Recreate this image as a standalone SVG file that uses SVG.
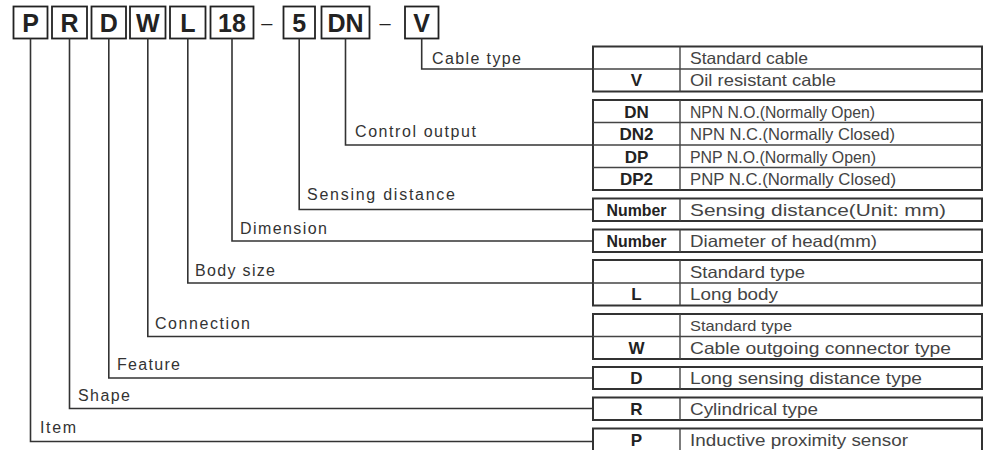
<svg xmlns="http://www.w3.org/2000/svg" width="985" height="450" viewBox="0 0 985 450">
<style>
.bx{fill:#fff;stroke:#222;stroke-width:1.8}
.hd{font-family:"Liberation Sans",Arial,sans-serif;font-weight:bold;font-size:25px;fill:#222;text-anchor:middle}
.ln{fill:none;stroke:#333;stroke-width:1.6}
.lb{font-family:"Liberation Sans",Arial,sans-serif;font-size:16px;fill:#333}
.tb{fill:#fff;stroke:#333;stroke-width:2}
.in{stroke:#444;stroke-width:1.4}
.cd{font-family:"Liberation Sans",Arial,sans-serif;font-weight:bold;font-size:17px;fill:#222;text-anchor:middle}
.ds{font-family:"Liberation Sans",Arial,sans-serif;font-size:16.5px;fill:#444}
</style>
<rect width="985" height="450" fill="#fff"/>
<g id="code">
<g id="h-P"><rect class="bx" x="13.5" y="6.5" width="34" height="32"/><text class="hd" x="30.5" y="32">P</text></g>
<g id="h-R"><rect class="bx" x="52" y="6.5" width="35" height="32"/><text class="hd" x="69.5" y="32">R</text></g>
<g id="h-D"><rect class="bx" x="91.5" y="6.5" width="34.5" height="32"/><text class="hd" x="108.8" y="32">D</text></g>
<g id="h-W"><rect class="bx" x="130" y="6.5" width="35.5" height="32"/><text class="hd" x="147.8" y="32">W</text></g>
<g id="h-L"><rect class="bx" x="170" y="6.5" width="35.5" height="32"/><text class="hd" x="187.8" y="32">L</text></g>
<g id="h-18"><rect class="bx" x="210.5" y="6.5" width="43" height="32"/><text class="hd" x="232" y="32">18</text></g>
<text class="hd" x="266.7" y="30" style="font-weight:normal;font-size:20px">–</text>
<g id="h-5"><rect class="bx" x="283.5" y="6.5" width="31.5" height="32"/><text class="hd" x="299.2" y="32">5</text></g>
<g id="h-DN"><rect class="bx" x="321.5" y="6.5" width="48" height="32"/><text class="hd" x="345.5" y="32">DN</text></g>
<text class="hd" x="385" y="30" style="font-weight:normal;font-size:20px">–</text>
<g id="h-V"><rect class="bx" x="405" y="6.5" width="33.5" height="32"/><text class="hd" x="421.7" y="32">V</text></g>
</g>
<g id="connectors">
<polyline class="ln" points="421.7,38.5 421.7,69 593,69"/>
<polyline class="ln" points="345.5,38.5 345.5,145 593,145"/>
<polyline class="ln" points="299.2,38.5 299.2,209.5 593,209.5"/>
<polyline class="ln" points="232,38.5 232,241 593,241"/>
<polyline class="ln" points="187.8,38.5 187.8,283 593,283"/>
<polyline class="ln" points="147.8,38.5 147.8,336.5 593,336.5"/>
<polyline class="ln" points="108.8,38.5 108.8,378 593,378"/>
<polyline class="ln" points="69.5,38.5 69.5,408.5 593,408.5"/>
<polyline class="ln" points="30.5,38.5 30.5,441.5 593,441.5"/>
</g>
<g id="labels">
<text class="lb" x="432" y="64" textLength="89">Cable type</text>
<text class="lb" x="355" y="137" textLength="121">Control output</text>
<text class="lb" x="307" y="200" textLength="148">Sensing distance</text>
<text class="lb" x="240" y="234" textLength="87">Dimension</text>
<text class="lb" x="195" y="276" textLength="80">Body size</text>
<text class="lb" x="155" y="329" textLength="95">Connection</text>
<text class="lb" x="117" y="370" textLength="63">Feature</text>
<text class="lb" x="78" y="401" textLength="52">Shape</text>
<text class="lb" x="40" y="433" textLength="36">Item</text>
</g>
<g id="t-cable">
<rect class="tb" x="593" y="46.5" width="389" height="45"/>
<line class="in" x1="593" y1="69" x2="982" y2="69"/><line class="in" x1="680" y1="46.5" x2="680" y2="91.5"/>
<text class="ds" x="690" y="63.5" textLength="118" lengthAdjust="spacingAndGlyphs">Standard cable</text>
<text class="cd" x="636.5" y="86">V</text><text class="ds" x="690" y="86" textLength="146" lengthAdjust="spacingAndGlyphs">Oil resistant cable</text>
</g>
<g id="t-output">
<rect class="tb" x="593" y="100" width="389" height="90"/>
<line class="in" x1="593" y1="122.5" x2="982" y2="122.5"/><line class="in" x1="593" y1="145" x2="982" y2="145"/><line class="in" x1="593" y1="167.5" x2="982" y2="167.5"/><line class="in" x1="680" y1="100" x2="680" y2="190"/>
<text class="cd" x="636.5" y="117.5">DN</text><text class="ds" x="690" y="117.5" textLength="185" lengthAdjust="spacingAndGlyphs">NPN N.O.(Normally Open)</text>
<text class="cd" x="636.5" y="140">DN2</text><text class="ds" x="690" y="140" textLength="205" lengthAdjust="spacingAndGlyphs">NPN N.C.(Normally Closed)</text>
<text class="cd" x="636.5" y="162.5">DP</text><text class="ds" x="690" y="162.5" textLength="186" lengthAdjust="spacingAndGlyphs">PNP N.O.(Normally Open)</text>
<text class="cd" x="636.5" y="185">DP2</text><text class="ds" x="690" y="185" textLength="206" lengthAdjust="spacingAndGlyphs">PNP N.C.(Normally Closed)</text>
</g>
<g id="t-sensing">
<rect class="tb" x="593" y="198.5" width="389" height="22.5"/><line class="in" x1="680" y1="198.5" x2="680" y2="221"/>
<text class="cd" x="636.5" y="215.5" textLength="60" lengthAdjust="spacingAndGlyphs">Number</text><text class="ds" x="690" y="215.5" textLength="256" lengthAdjust="spacingAndGlyphs">Sensing distance(Unit: mm)</text>
</g>
<g id="t-dimension">
<rect class="tb" x="593" y="229.5" width="389" height="22.5"/><line class="in" x1="680" y1="229.5" x2="680" y2="252"/>
<text class="cd" x="636.5" y="246.5" textLength="60" lengthAdjust="spacingAndGlyphs">Number</text><text class="ds" x="690" y="246.5" textLength="187" lengthAdjust="spacingAndGlyphs">Diameter of head(mm)</text>
</g>
<g id="t-body">
<rect class="tb" x="593" y="260" width="389" height="45.5"/>
<line class="in" x1="593" y1="283" x2="982" y2="283"/><line class="in" x1="680" y1="260" x2="680" y2="305.5"/>
<text class="ds" x="690" y="277.5" textLength="115" lengthAdjust="spacingAndGlyphs">Standard type</text>
<text class="cd" x="636.5" y="300">L</text><text class="ds" x="690" y="300" textLength="88" lengthAdjust="spacingAndGlyphs">Long body</text>
</g>
<g id="t-connection">
<rect class="tb" x="593" y="314" width="389" height="45"/>
<line class="in" x1="593" y1="336.5" x2="982" y2="336.5"/><line class="in" x1="680" y1="314" x2="680" y2="359"/>
<text class="ds" x="690" y="331" textLength="102" lengthAdjust="spacingAndGlyphs" style="font-size:15px">Standard type</text>
<text class="cd" x="636.5" y="354">W</text><text class="ds" x="690" y="353.5" textLength="261" lengthAdjust="spacingAndGlyphs">Cable outgoing connector type</text>
</g>
<g id="t-feature">
<rect class="tb" x="593" y="367" width="389" height="22"/><line class="in" x1="680" y1="367" x2="680" y2="389"/>
<text class="cd" x="636.5" y="384">D</text><text class="ds" x="690" y="384" textLength="232" lengthAdjust="spacingAndGlyphs">Long sensing distance type</text>
</g>
<g id="t-shape">
<rect class="tb" x="593" y="397.5" width="389" height="22.5"/><line class="in" x1="680" y1="397.5" x2="680" y2="420"/>
<text class="cd" x="636.5" y="414.5">R</text><text class="ds" x="690" y="414.5" textLength="128" lengthAdjust="spacingAndGlyphs">Cylindrical type</text>
</g>
<g id="t-item">
<rect class="tb" x="593" y="428.5" width="389" height="24"/><line class="in" x1="680" y1="428.5" x2="680" y2="452"/>
<text class="cd" x="636.5" y="446">P</text><text class="ds" x="690" y="446" textLength="218" lengthAdjust="spacingAndGlyphs">Inductive proximity sensor</text>
</g>
</svg>
